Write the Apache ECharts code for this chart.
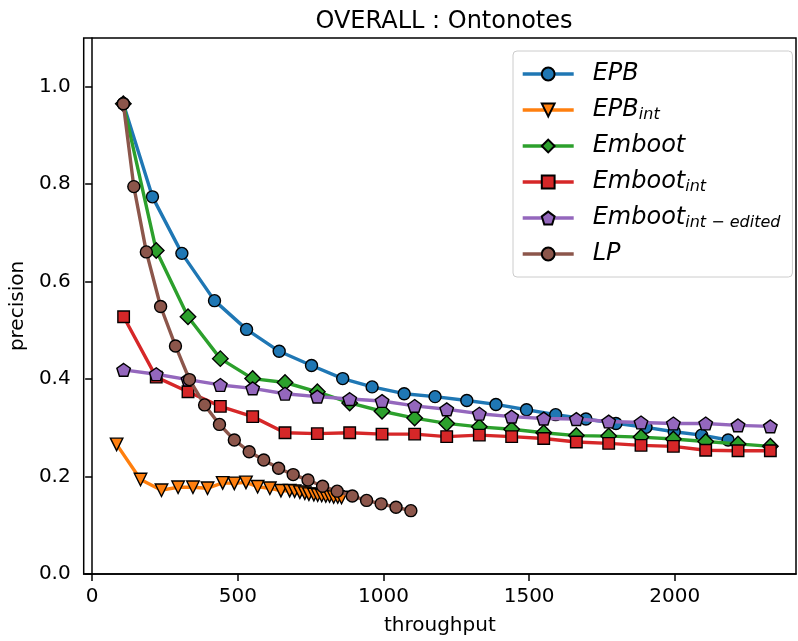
<!DOCTYPE html>
<html>
<head>
<meta charset="utf-8">
<script src="https://cdn.jsdelivr.net/npm/echarts@6/dist/echarts.min.js"></script>
<style>
html,body{margin:0;padding:0;background:#fff;}
#chart{width:798px;height:641px;}
</style>
</head>
<body>
<div id="chart"></div>
<script>
// ---- data ----
const seriesNames = ['EPB', 'EPB_int', 'Emboot', 'Emboot_int', 'Emboot_int-edited', 'LP'];

const epbX = [107,207,308,420,530,642,753,860,961,1071,1177,1286,1386,1491,1591,1695,1798,1901,1998,2092,2183];
const epbY = [0.965,0.774,0.658,0.561,0.502,0.457,0.428,0.401,0.384,0.370,0.364,0.356,0.348,0.337,0.327,0.318,0.309,0.301,0.292,0.285,0.275];

const epbIntX = [84,166,238,295,346,396,448,488,528,568,610,648,678,695,713,730,744,761,774,788,802,815,829,843,856];
const epbIntY = [0.266,0.194,0.172,0.178,0.178,0.176,0.187,0.186,0.188,0.179,0.176,0.171,0.171,0.170,0.168,0.166,0.164,0.163,0.162,0.161,0.160,0.160,0.158,0.158,0.157];

const embootX = [107,220,329,440,551,662,773,884,995,1107,1217,1329,1440,1550,1662,1773,1884,1995,2106,2217,2328];
const embootY = [0.965,0.664,0.528,0.442,0.401,0.393,0.374,0.351,0.334,0.320,0.309,0.302,0.297,0.290,0.284,0.283,0.281,0.277,0.272,0.267,0.262];

const embootIntX = [108,220,329,440,551,662,773,884,995,1107,1217,1329,1440,1550,1662,1773,1884,1995,2106,2217,2328];
const embootIntY = [0.528,0.404,0.374,0.344,0.323,0.290,0.288,0.290,0.287,0.287,0.282,0.285,0.282,0.278,0.271,0.268,0.264,0.262,0.254,0.253,0.253];

const editedX = [108,220,329,440,551,662,773,884,995,1107,1217,1329,1440,1550,1662,1773,1884,1995,2106,2217,2328];
const editedY = [0.419,0.410,0.399,0.388,0.381,0.370,0.364,0.359,0.355,0.345,0.338,0.329,0.323,0.319,0.318,0.313,0.311,0.309,0.309,0.305,0.303];

const lpX = [107,143,186,235,286,334,386,437,488,539,589,640,690,741,791,841,893,942,992,1043,1094];
const lpY = [0.965,0.795,0.661,0.549,0.468,0.399,0.347,0.307,0.275,0.251,0.234,0.217,0.204,0.193,0.180,0.170,0.160,0.151,0.144,0.137,0.130];

const xTicks = [0, 500, 1000, 1500, 2000];
const yTicks = [0.0, 0.2, 0.4, 0.6, 0.8, 1.0];

// ---- styling ----
const colors = ['#1f77b4', '#ff7f0e', '#2ca02c', '#d62728', '#9467bd', '#8c564b'];
const pentagon = 'path://M0,-1 L0.951,-0.309 L0.588,0.809 L-0.588,0.809 L-0.951,-0.309 Z';
const symbols = [
  {symbol: 'circle', size: 12, rotate: 0},
  {symbol: 'triangle', size: 12.5, rotate: 180},
  {symbol: 'diamond', size: 15.5, rotate: 0},
  {symbol: 'rect', size: 11.5, rotate: 0},
  {symbol: pentagon, size: [13.5, 12.8], rotate: 0},
  {symbol: 'circle', size: 12, rotate: 0}
];
const xs = [epbX, epbIntX, embootX, embootIntX, editedX, lpX];
const ys = [epbY, epbIntY, embootY, embootIntY, editedY, lpY];

const FONT = 'DejaVu Sans';

const series = seriesNames.map((name, i) => ({
  name: name,
  type: 'line',
  z: 2 + i,
  data: xs[i].map((x, k) => [x, ys[i][k]]),
  symbol: symbols[i].symbol,
  symbolSize: symbols[i].size,
  symbolRotate: symbols[i].rotate,
  showAllSymbol: true,
  lineStyle: {color: colors[i], width: 3.4},
  itemStyle: {color: colors[i], borderColor: '#000', borderWidth: 1.4},
  emphasis: {disabled: true},
  animation: false
}));

function legendLabel(name) {
  const idx = name.indexOf('_');
  if (idx < 0) return '{m|' + name + '}';
  const main = name.slice(0, idx);
  let sub = name.slice(idx + 1).replace('-', ' \u2212 ');
  return '{m|' + main + '}{s|' + sub + '}';
}

const chart = echarts.init(document.getElementById('chart'), null, {renderer: 'canvas'});
chart.setOption({
  animation: false,
  backgroundColor: '#fff',
  color: colors,
  title: {
    text: 'OVERALL : Ontonotes',
    left: 439,
    top: 5,
    textAlign: 'center',
    textStyle: {fontFamily: FONT, fontSize: 24, fontWeight: 'normal', color: '#000'}
  },
  grid: {
    left: 82, right: 2, top: 38, bottom: 64,
    show: true, borderColor: '#000', borderWidth: 1.5, backgroundColor: 'transparent'
  },
  xAxis: {
    type: 'value',
    min: -29, max: 2416,
    name: 'throughput',
    nameLocation: 'middle',
    nameGap: 42,
    nameTextStyle: {fontFamily: FONT, fontSize: 20, color: '#000'},
    axisLine: {show: true, lineStyle: {color: '#000', width: 1.5}},
    axisTick: {show: true, inside: false, length: 7, lineStyle: {color: '#000', width: 1.5}, customValues: xTicks},
    axisLabel: {show: true, margin: 13, fontFamily: FONT, fontSize: 20, color: '#000', customValues: xTicks,
      formatter: v => String(v)},
    splitLine: {show: false}
  },
  yAxis: {
    type: 'value',
    min: 0, max: 1.1,
    name: 'precision',
    nameLocation: 'middle',
    nameGap: 46,
    nameTextStyle: {fontFamily: FONT, fontSize: 20, color: '#000'},
    axisLine: {show: true, lineStyle: {color: '#000', width: 1.5}},
    axisTick: {show: true, inside: false, length: 7, lineStyle: {color: '#000', width: 1.5}, customValues: yTicks},
    axisLabel: {show: true, margin: 13, fontFamily: FONT, fontSize: 20, color: '#000', customValues: yTicks,
      formatter: v => Number(v).toFixed(1)},
    splitLine: {show: false}
  },
  legend: {
    orient: 'vertical',
    left: 513,
    top: 51,
    padding: [7, 12, 7, 8],
    itemWidth: 51,
    itemHeight: 16,
    itemGap: 4,
    backgroundColor: 'rgba(255,255,255,0.8)',
    borderColor: '#cccccc',
    borderWidth: 1,
    borderRadius: 4,
    lineStyle: {width: 3.4},
    data: seriesNames,
    formatter: legendLabel,
    textStyle: {
      color: '#000',
      rich: {
        m: {fontFamily: FONT, fontStyle: 'italic', fontSize: 24, lineHeight: 26, padding: [4, 0, 4, 14], color: '#000'},
        s: {fontFamily: FONT, fontStyle: 'italic', fontSize: 16, lineHeight: 23, verticalAlign: 'bottom', color: '#000'}
      }
    },
    selectedMode: false
  },
  series: series
});
</script>
</body>
</html>
